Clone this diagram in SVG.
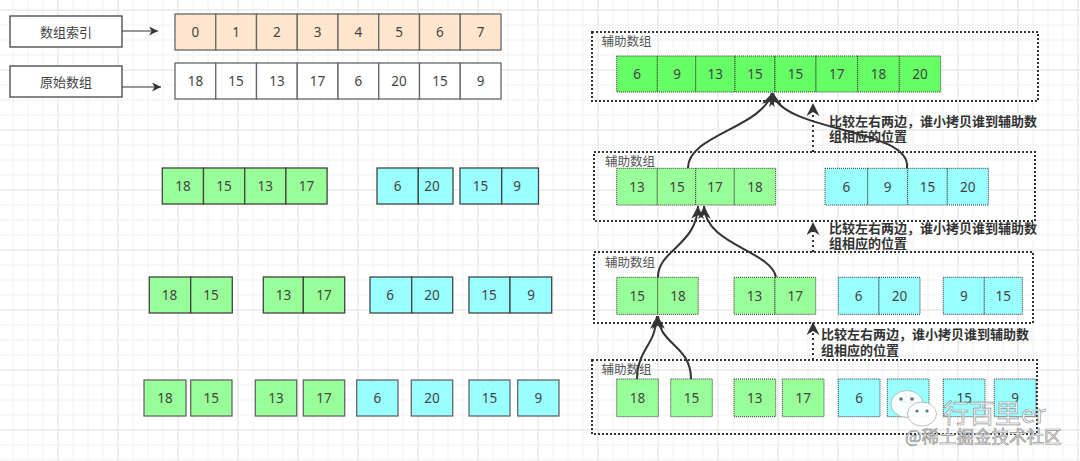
<svg xmlns="http://www.w3.org/2000/svg" width="1080" height="461" viewBox="0 0 1080 461">
<defs>
<pattern id="gMinor" patternUnits="userSpaceOnUse" x="12.5" y="9.5" width="15" height="15">
<path d="M15 0.5H0.5V15" fill="none" stroke="#f1f1f1" stroke-width="1"/>
</pattern>
<pattern id="gMajor" patternUnits="userSpaceOnUse" x="57.5" y="9.5" width="60" height="60">
<path d="M60 0.5H0.5V60" fill="none" stroke="#e6e6e6" stroke-width="1"/>
</pattern>
<marker id="arr" markerUnits="userSpaceOnUse" viewBox="0 0 10 10" refX="10" refY="5" markerWidth="13" markerHeight="13" orient="auto">
<path d="M0,0 L10,5 L0,10 L3,5 z" fill="#333"/>
</marker>
<marker id="arrS" markerUnits="userSpaceOnUse" viewBox="0 0 10 10" refX="10" refY="5" markerWidth="9" markerHeight="9" orient="auto">
<path d="M0,0 L10,5 L0,10 L3,5 z" fill="#333"/>
</marker>
</defs>
<style>
text{font-family:"Noto Sans","Noto Sans CJK SC",sans-serif;}
.num{font-size:13.5px;fill:#444;text-anchor:middle;dominant-baseline:central;}
.lbl{font-size:13px;fill:#444;text-anchor:middle;dominant-baseline:central;font-family:"Noto Sans CJK SC",sans-serif;}
.plbl{font-size:12.5px;fill:#555;font-family:"Noto Sans CJK SC",sans-serif;}
.note{font-size:13px;fill:#333;font-weight:bold;font-family:"Noto Sans CJK SC",sans-serif;}
.box{fill:#fff;stroke:#444;stroke-width:1.3;}
.org{fill:#ffe6cc;stroke:#666;stroke-width:1.3;}
.wht{fill:#fff;stroke:#666;stroke-width:1.3;}
.g{fill:#99ff99;stroke:#444;stroke-width:1.3;}
.c{fill:#99ffff;stroke:#444;stroke-width:1.3;}
.g4{fill:#99ff99;stroke:#666;stroke-width:1.3;}
.c4{fill:#99ffff;stroke:#666;stroke-width:1.3;}
.pan{fill:none;stroke:#333;stroke-width:2;stroke-dasharray:2 2;}
.pg{fill:#99ff99;stroke:#333;stroke-width:1;stroke-dasharray:1 1;}
.pc{fill:#99ffff;stroke:#333;stroke-width:1;stroke-dasharray:1 1;}
.pb{fill:#66ff66;stroke:#333;stroke-width:1;stroke-dasharray:1 1;}
.cur{fill:none;stroke:#333;stroke-width:2;marker-end:url(#arr);}
.dot{fill:none;stroke:#333;stroke-width:2;stroke-dasharray:2 3;marker-end:url(#arr);}
.thin{fill:none;stroke:#333;stroke-width:1;marker-end:url(#arrS);}
.wm{fill:#fff;stroke:#8a8a8a;stroke-width:0.7;font-family:"Noto Sans CJK SC",sans-serif;}
</style>
<rect width="1080" height="461" fill="#fff"/>
<rect width="1080" height="461" fill="url(#gMinor)"/>
<rect width="1080" height="461" fill="url(#gMajor)"/>

<g id="label-index">
<rect class="box" x="10" y="16" width="112" height="31"/>
<text class="lbl" x="66" y="31.5">数组索引</text>
</g>
<g id="label-orig">
<rect class="box" x="10" y="66" width="112" height="31"/>
<text class="lbl" x="66" y="81.5">原始数组</text>
</g>

<g id="array-index">
<rect class="org" x="175" y="14" width="40.75" height="36"/>
<rect class="org" x="215.75" y="14" width="40.75" height="36"/>
<rect class="org" x="256.5" y="14" width="40.75" height="36"/>
<rect class="org" x="297.25" y="14" width="40.75" height="36"/>
<rect class="org" x="338" y="14" width="40.75" height="36"/>
<rect class="org" x="378.75" y="14" width="40.75" height="36"/>
<rect class="org" x="419.5" y="14" width="40.75" height="36"/>
<rect class="org" x="460.25" y="14" width="40.75" height="36"/>
<text class="num" x="195.4" y="32">0</text>
<text class="num" x="236.1" y="32">1</text>
<text class="num" x="276.9" y="32">2</text>
<text class="num" x="317.6" y="32">3</text>
<text class="num" x="358.4" y="32">4</text>
<text class="num" x="399.1" y="32">5</text>
<text class="num" x="439.9" y="32">6</text>
<text class="num" x="480.6" y="32">7</text>
</g>
<g id="array-orig">
<rect class="wht" x="175" y="63" width="40.75" height="36"/>
<rect class="wht" x="215.75" y="63" width="40.75" height="36"/>
<rect class="wht" x="256.5" y="63" width="40.75" height="36"/>
<rect class="wht" x="297.25" y="63" width="40.75" height="36"/>
<rect class="wht" x="338" y="63" width="40.75" height="36"/>
<rect class="wht" x="378.75" y="63" width="40.75" height="36"/>
<rect class="wht" x="419.5" y="63" width="40.75" height="36"/>
<rect class="wht" x="460.25" y="63" width="40.75" height="36"/>
<text class="num" x="195.4" y="81">18</text>
<text class="num" x="236.1" y="81">15</text>
<text class="num" x="276.9" y="81">13</text>
<text class="num" x="317.6" y="81">17</text>
<text class="num" x="358.4" y="81">6</text>
<text class="num" x="399.1" y="81">20</text>
<text class="num" x="439.9" y="81">15</text>
<text class="num" x="480.6" y="81">9</text>
</g>

<g id="split-1-left">
<rect class="g" x="162.3" y="168" width="41.2" height="36"/>
<rect class="g" x="203.5" y="168" width="41.2" height="36"/>
<rect class="g" x="244.7" y="168" width="41.2" height="36"/>
<rect class="g" x="285.9" y="168" width="41.2" height="36"/>
<text class="num" x="183" y="186">18</text>
<text class="num" x="224" y="186">15</text>
<text class="num" x="265.3" y="186">13</text>
<text class="num" x="306.5" y="186">17</text>
</g>
<g id="split-1-right-a">
<rect class="c" x="377" y="168" width="41.3" height="36"/>
<rect class="c" x="418.3" y="168" width="34.7" height="36"/>
<text class="num" x="397.5" y="186">6</text>
<text class="num" x="432" y="186">20</text>
</g>
<g id="split-1-right-b">
<rect class="c" x="460" y="168" width="41.7" height="36"/>
<rect class="c" x="501.7" y="168" width="36.8" height="36"/>
<text class="num" x="480.5" y="186">15</text>
<text class="num" x="517" y="186">9</text>
</g>

<g id="split-2-a">
<rect class="g" x="149.3" y="277" width="41.4" height="36"/>
<rect class="g" x="190.7" y="277" width="41.6" height="36"/>
<text class="num" x="169.5" y="295">18</text>
<text class="num" x="211" y="295">15</text>
</g>
<g id="split-2-b">
<rect class="g" x="263.3" y="277" width="40" height="36"/>
<rect class="g" x="303.3" y="277" width="41.4" height="36"/>
<text class="num" x="283.5" y="295">13</text>
<text class="num" x="324" y="295">17</text>
</g>
<g id="split-2-c">
<rect class="c" x="370" y="277" width="41.7" height="36"/>
<rect class="c" x="411.7" y="277" width="41" height="36"/>
<text class="num" x="390" y="295">6</text>
<text class="num" x="432" y="295">20</text>
</g>
<g id="split-2-d">
<rect class="c" x="469" y="277" width="41" height="36"/>
<rect class="c" x="510" y="277" width="41.7" height="36"/>
<text class="num" x="489" y="295">15</text>
<text class="num" x="531" y="295">9</text>
</g>

<g id="split-3">
<rect class="g4" x="144" y="380" width="42" height="36"/>
<rect class="g4" x="190.7" y="380" width="41.3" height="36"/>
<rect class="g4" x="255.3" y="380" width="41.4" height="36"/>
<rect class="g4" x="303.3" y="380" width="41.4" height="36"/>
<rect class="c4" x="356.7" y="380" width="41.3" height="36"/>
<rect class="c4" x="411.3" y="380" width="41.4" height="36"/>
<rect class="c4" x="469" y="380" width="41" height="36"/>
<rect class="c4" x="517.7" y="380" width="41.3" height="36"/>
<text class="num" x="165" y="398">18</text>
<text class="num" x="211.3" y="398">15</text>
<text class="num" x="276" y="398">13</text>
<text class="num" x="324" y="398">17</text>
<text class="num" x="377.3" y="398">6</text>
<text class="num" x="432" y="398">20</text>
<text class="num" x="489.5" y="398">15</text>
<text class="num" x="538.3" y="398">9</text>
</g>

<g id="aux-1">
<rect class="pan" x="592" y="32" width="446" height="69"/>
<text class="plbl" x="601.5" y="46">辅助数组</text>
<rect class="pb" x="616.7" y="56" width="40.6" height="36"/>
<rect class="pb" x="657.3" y="56" width="38.4" height="36"/>
<rect class="pb" x="695.7" y="56" width="39.3" height="36"/>
<rect class="pb" x="735" y="56" width="40" height="36"/>
<rect class="pb" x="775" y="56" width="41" height="36"/>
<rect class="pb" x="816" y="56" width="41.7" height="36"/>
<rect class="pb" x="857.7" y="56" width="41.6" height="36"/>
<rect class="pb" x="899.3" y="56" width="41.4" height="36"/>
<text class="num" x="637" y="74">6</text>
<text class="num" x="677" y="74">9</text>
<text class="num" x="715.3" y="74">13</text>
<text class="num" x="755" y="74">15</text>
<text class="num" x="795.5" y="74">15</text>
<text class="num" x="836.8" y="74">17</text>
<text class="num" x="878.5" y="74">18</text>
<text class="num" x="920" y="74">20</text>
</g>

<g id="aux-2">
<rect class="pan" x="594" y="152" width="441" height="69"/>
<text class="plbl" x="605" y="165.5">辅助数组</text>
<rect class="pg" x="616.7" y="168.3" width="40.6" height="36.7"/>
<rect class="pg" x="657.3" y="168.3" width="38.4" height="36.7"/>
<rect class="pg" x="695.7" y="168.3" width="38.6" height="36.7"/>
<rect class="pg" x="734.3" y="168.3" width="41.4" height="36.7"/>
<rect class="pc" x="825" y="168.3" width="42.7" height="36.7"/>
<rect class="pc" x="867.7" y="168.3" width="40" height="36.7"/>
<rect class="pc" x="907.7" y="168.3" width="39.6" height="36.7"/>
<rect class="pc" x="947.3" y="168.3" width="41" height="36.7"/>
<text class="num" x="637" y="186.7">13</text>
<text class="num" x="677" y="186.7">15</text>
<text class="num" x="715" y="186.7">17</text>
<text class="num" x="755" y="186.7">18</text>
<text class="num" x="846.3" y="186.7">6</text>
<text class="num" x="887.7" y="186.7">9</text>
<text class="num" x="927.5" y="186.7">15</text>
<text class="num" x="967.8" y="186.7">20</text>
</g>

<g id="aux-3">
<rect class="pan" x="594" y="252" width="439" height="71"/>
<text class="plbl" x="605" y="267">辅助数组</text>
<rect class="pg" x="616.7" y="277.3" width="41" height="37"/>
<rect class="pg" x="657.7" y="277.3" width="40.6" height="37"/>
<rect class="pg" x="734" y="277.3" width="41" height="37"/>
<rect class="pg" x="775" y="277.3" width="40.7" height="37"/>
<rect class="pc" x="838.3" y="277.3" width="40.7" height="37"/>
<rect class="pc" x="879" y="277.3" width="41" height="37"/>
<rect class="pc" x="943.3" y="277.3" width="41" height="37"/>
<rect class="pc" x="984.3" y="277.3" width="38" height="37"/>
<text class="num" x="637.2" y="295.8">15</text>
<text class="num" x="678" y="295.8">18</text>
<text class="num" x="754.5" y="295.8">13</text>
<text class="num" x="795.3" y="295.8">17</text>
<text class="num" x="858.7" y="295.8">6</text>
<text class="num" x="899.5" y="295.8">20</text>
<text class="num" x="963.8" y="295.8">9</text>
<text class="num" x="1003.3" y="295.8">15</text>
</g>

<g id="aux-4">
<rect class="pan" x="592" y="360" width="445" height="74"/>
<text class="plbl" x="601.5" y="373.5">辅助数组</text>
<rect class="pg" x="616.7" y="379" width="41.6" height="37.7"/>
<rect class="pg" x="670.7" y="379" width="41.6" height="37.7"/>
<rect class="pg" x="734" y="379" width="41.7" height="37.7"/>
<rect class="pg" x="782.3" y="379" width="41.7" height="37.7"/>
<rect class="pc" x="838.3" y="379" width="41.7" height="37.7"/>
<rect class="pc" x="887.3" y="379" width="41.7" height="37.7"/>
<rect class="pc" x="943.3" y="379" width="41.7" height="37.7"/>
<rect class="pc" x="994.3" y="379" width="41.7" height="37.7"/>
<text class="num" x="637.5" y="397.8">18</text>
<text class="num" x="691.5" y="397.8">15</text>
<text class="num" x="754.8" y="397.8">13</text>
<text class="num" x="803.2" y="397.8">17</text>
<text class="num" x="859.2" y="397.8">6</text>
<text class="num" x="908.2" y="397.8">20</text>
<text class="num" x="964.2" y="397.8">15</text>
<text class="num" x="1015.2" y="397.8">9</text>
</g>

<g id="note-1">
<text class="note" x="829" y="126">比较左右两边，谁小拷贝谁到辅助数</text>
<text class="note" x="829" y="141">组相应的位置</text>
</g>
<g id="note-2">
<text class="note" x="829" y="233">比较左右两边，谁小拷贝谁到辅助数</text>
<text class="note" x="829" y="248">组相应的位置</text>
</g>
<g id="note-3">
<text class="note" x="821" y="339">比较左右两边，谁小拷贝谁到辅助数</text>
<text class="note" x="821" y="355">组相应的位置</text>
</g>

<g id="connectors">
<path class="thin" d="M122,31 L158,31"/>
<path class="thin" d="M122,87 L161,87"/>
<path class="cur" d="M688,168 C688,135 762,128 772,93"/>
<path class="cur" d="M907,168 C912,128 780,132 773,93"/>
<path class="cur" d="M658,277 C658,250 697,245 698,206"/>
<path class="cur" d="M776,277 C770,250 705,245 704,206"/>
<path class="cur" d="M637,379 C637,350 656,345 657,316"/>
<path class="cur" d="M691,379 C691,345 659,345 658,316"/>
<path class="dot" d="M813,152 L813,103"/>
<path class="dot" d="M813,252 L813,222"/>
<path class="dot" d="M813,360 L813,322"/>
</g>

<g id="watermark" opacity="0.92">
<ellipse cx="907" cy="404" rx="16" ry="13.5" fill="#fff" stroke="#aaa" stroke-width="0.8"/>
<circle cx="901" cy="399" r="1.8" fill="#667"/>
<circle cx="912" cy="399" r="1.8" fill="#667"/>
<ellipse cx="922" cy="414" rx="14.5" ry="12" fill="#fff" stroke="#aaa" stroke-width="0.8"/>
<circle cx="917" cy="411" r="1.6" fill="#667"/>
<circle cx="927" cy="411" r="1.6" fill="#667"/>
<text class="wm" x="943" y="423" font-size="26">行百里er</text>
<text class="wm" x="905" y="443" font-size="17.5" stroke-width="0.5">@稀土掘金技术社区</text>
</g>
</svg>
